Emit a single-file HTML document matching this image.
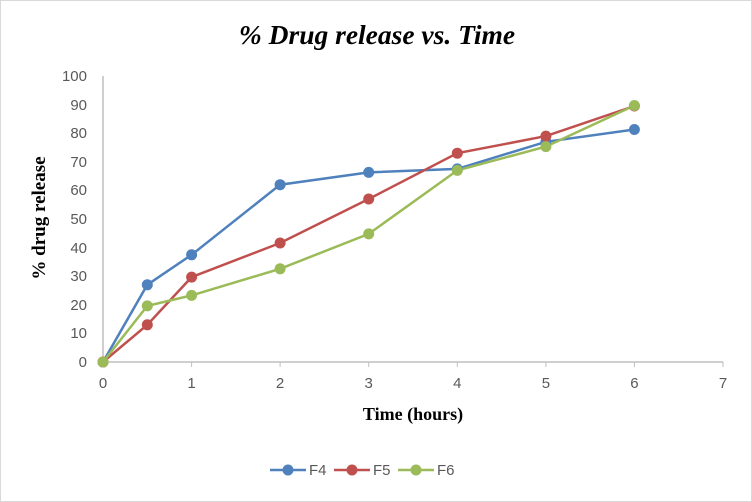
<!DOCTYPE html>
<html><head><style>body{margin:0;background:#fff}</style></head><body>
<svg width="752" height="502" xmlns="http://www.w3.org/2000/svg" style="display:block">
<rect x="0.5" y="0.5" width="751" height="501" fill="#fff" stroke="#d9d9d9"/>
<text x="377" y="44" text-anchor="middle" font-family="Liberation Serif" font-size="27.5" font-weight="bold" font-style="italic">% Drug release vs. Time</text>
<line x1="103" y1="76" x2="103" y2="362" stroke="#bfbfbf" stroke-width="1.5"/>
<line x1="103" y1="362" x2="723" y2="362" stroke="#bfbfbf" stroke-width="1.5"/>
<g stroke="#bfbfbf"><line x1="103" y1="362" x2="103" y2="367"/><line x1="191.6" y1="362" x2="191.6" y2="367"/><line x1="280.1" y1="362" x2="280.1" y2="367"/><line x1="368.7" y1="362" x2="368.7" y2="367"/><line x1="457.3" y1="362" x2="457.3" y2="367"/><line x1="545.9" y1="362" x2="545.9" y2="367"/><line x1="634.4" y1="362" x2="634.4" y2="367"/><line x1="723" y1="362" x2="723" y2="367"/></g>
<g font-family="Liberation Sans" font-size="15" fill="#595959" text-anchor="end">
<text x="87" y="367">0</text><text x="87" y="338">10</text><text x="87" y="310">20</text><text x="87" y="281">30</text><text x="87" y="253">40</text><text x="87" y="224">50</text><text x="87" y="195">60</text><text x="87" y="167">70</text><text x="87" y="138">80</text><text x="87" y="110">90</text><text x="87" y="81">100</text>
</g>
<g font-family="Liberation Sans" font-size="15" fill="#595959" text-anchor="middle">
<text x="103" y="388">0</text><text x="191.6" y="388">1</text><text x="280.1" y="388">2</text><text x="368.7" y="388">3</text><text x="457.3" y="388">4</text><text x="545.9" y="388">5</text><text x="634.4" y="388">6</text><text x="723" y="388">7</text>
</g>
<text x="413" y="420" text-anchor="middle" font-family="Liberation Serif" font-size="18" font-weight="bold">Time (hours)</text>
<text transform="translate(45,218) rotate(-90)" text-anchor="middle" font-family="Liberation Serif" font-size="19" font-weight="bold">% drug  release</text>
<g fill="none" stroke-width="2.5">
<polyline stroke="#4f81bd" points="103,362 147.3,284.8 191.6,254.8 280.1,184.7 368.7,172.4 457.3,168.9 545.9,141.8 634.4,129.5"/>
<polyline stroke="#c0504d" points="103,362 147.3,324.8 191.6,277.1 280.1,243 368.7,199 457.3,153.2 545.9,136.1 634.4,106"/>
<polyline stroke="#9bbb59" points="103,362 147.3,305.9 191.6,295.4 280.1,268.8 368.7,233.9 457.3,170.4 545.9,146.6 634.4,105.5"/>
</g>
<g fill="#4f81bd"><circle cx="103" cy="362" r="5.5"/><circle cx="147.3" cy="284.8" r="5.5"/><circle cx="191.6" cy="254.8" r="5.5"/><circle cx="280.1" cy="184.7" r="5.5"/><circle cx="368.7" cy="172.4" r="5.5"/><circle cx="457.3" cy="168.9" r="5.5"/><circle cx="545.9" cy="141.8" r="5.5"/><circle cx="634.4" cy="129.5" r="5.5"/></g>
<g fill="#c0504d"><circle cx="103" cy="362" r="5.5"/><circle cx="147.3" cy="324.8" r="5.5"/><circle cx="191.6" cy="277.1" r="5.5"/><circle cx="280.1" cy="243" r="5.5"/><circle cx="368.7" cy="199" r="5.5"/><circle cx="457.3" cy="153.2" r="5.5"/><circle cx="545.9" cy="136.1" r="5.5"/><circle cx="634.4" cy="106" r="5.5"/></g>
<g fill="#9bbb59"><circle cx="103" cy="362" r="5.5"/><circle cx="147.3" cy="305.9" r="5.5"/><circle cx="191.6" cy="295.4" r="5.5"/><circle cx="280.1" cy="268.8" r="5.5"/><circle cx="368.7" cy="233.9" r="5.5"/><circle cx="457.3" cy="170.4" r="5.5"/><circle cx="545.9" cy="146.6" r="5.5"/><circle cx="634.4" cy="105.5" r="5.5"/></g>
<g stroke-width="2.5">
<line x1="270" y1="470" x2="306" y2="470" stroke="#4f81bd"/><circle cx="288" cy="470" r="5.5" fill="#4f81bd"/>
<line x1="334" y1="470" x2="370" y2="470" stroke="#c0504d"/><circle cx="352" cy="470" r="5.5" fill="#c0504d"/>
<line x1="398" y1="470" x2="434" y2="470" stroke="#9bbb59"/><circle cx="416" cy="470" r="5.5" fill="#9bbb59"/>
</g>
<g font-family="Liberation Sans" font-size="15" fill="#595959">
<text x="309" y="475">F4</text><text x="373" y="475">F5</text><text x="437" y="475">F6</text>
</g>
</svg>
</body></html>
